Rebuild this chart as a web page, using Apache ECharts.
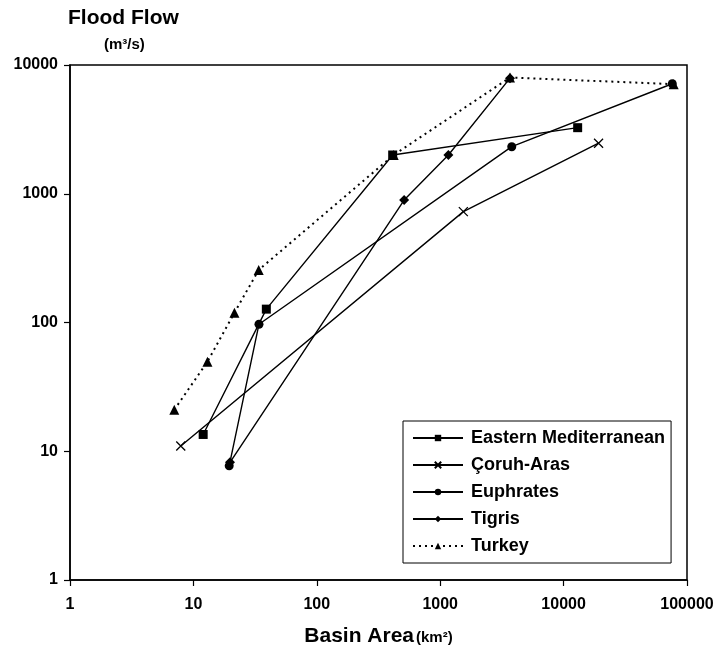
<!DOCTYPE html>
<html>
<head>
    <meta charset="utf-8" />
    <title>Flood Flow vs Basin Area</title>
    <style>
        html, body { margin: 0; padding: 0; background: #fff; }
        #chart { width: 715px; height: 647px; }
    </style>
</head>
<body>
    <div id="chart"></div>
    <script src="https://cdn.jsdelivr.net/npm/echarts@6/dist/echarts.min.js"></script>
    <script>
        // [basin area km2, flood flow m3/s]
        var easternMed = [[12, 13.5], [39, 127], [412, 2000], [13000, 3260]];
        var coruhAras = [[7.9, 11], [1540, 726], [19200, 2470]];
        var euphrates = [[19.5, 7.7], [34, 97], [3800, 2320], [76000, 7150]];
        var tigris = [[19.8, 8.2], [510, 894], [1165, 2000], [3680, 7900]];
        var turkey = [[7, 21], [13, 49.6], [21.5, 119], [33.8, 256], [420, 2000], [3680, 8000], [78000, 7100]];

        var xTicks = [1, 10, 100, 1000, 10000, 100000];
        var yTicks = [1, 10, 100, 1000, 10000];

        var font = 'Liberation Sans, Arial, sans-serif';
        var crossPath = 'path://M0,0L10,10M10,0L0,10';

        function line(name, data, symbol, size, dashed) {
            return {
                name: name,
                type: 'line',
                data: data,
                symbol: symbol,
                symbolSize: size,
                lineStyle: dashed
                    ? { color: '#000', width: 2, type: [2, 4] }
                    : { color: '#000', width: 1.4, type: 'solid' },
                itemStyle: {
                    color: symbol === crossPath ? 'none' : '#000',
                    borderColor: '#000',
                    borderWidth: symbol === crossPath ? 1.3 : 0
                },
                emphasis: { disabled: true },
                animation: false
            };
        }

        var chart = echarts.init(document.getElementById('chart'));
        chart.setOption({
            backgroundColor: '#fff',
            animation: false,
            grid: {
                left: 70, right: 28, top: 65, bottom: 67,
                containLabel: false,
                outerBoundsMode: 'none',
                show: true, borderColor: '#000', borderWidth: 1.5
            },
            xAxis: {
                type: 'log',
                logBase: 10,
                min: xTicks[0],
                max: xTicks[xTicks.length - 1],
                name: '{a|Basin Area}{b|(km²)}',
                nameLocation: 'middle',
                nameGap: 46,
                nameTextStyle: {
                    rich: {
                        a: { fontFamily: font, fontWeight: 'bold', fontSize: 21, color: '#000' },
                        b: { fontFamily: font, fontWeight: 'bold', fontSize: 15, color: '#000', padding: [3, 0, 0, 2] }
                    }
                },
                axisLine: { lineStyle: { color: '#000', width: 1.5 } },
                axisTick: { inside: false, length: 6, lineStyle: { color: '#000', width: 1.2 } },
                axisLabel: {
                    margin: 17,
                    fontFamily: font, fontWeight: 'bold', fontSize: 16, color: '#000',
                    formatter: function (v) { return String(Math.round(v)); }
                },
                splitLine: { show: false }
            },
            yAxis: {
                type: 'log',
                logBase: 10,
                min: yTicks[0],
                max: yTicks[yTicks.length - 1],
                axisLine: { lineStyle: { color: '#000', width: 1.5 } },
                axisTick: { inside: false, length: 6, lineStyle: { color: '#000', width: 1.2 } },
                axisLabel: {
                    margin: 12,
                    fontFamily: font, fontWeight: 'bold', fontSize: 16, color: '#000',
                    formatter: function (v) { return String(Math.round(v)); }
                },
                splitLine: { show: false }
            },
            legend: {
                orient: 'vertical',
                left: 403,
                top: 421,
                backgroundColor: '#fff',
                borderColor: '#000',
                borderWidth: 1,
                borderRadius: 0,
                padding: [8, 6, 8, 9],
                itemWidth: 50,
                itemHeight: 8,
                itemGap: 9,
                textStyle: { fontFamily: font, fontWeight: 'bold', fontSize: 18, color: '#000', padding: [0, 0, 0, 3] },
                data: ['Eastern Mediterranean', 'Çoruh-Aras', 'Euphrates', 'Tigris', 'Turkey']
            },
            graphic: [
                {
                    type: 'text', left: 68, top: 8,
                    style: { text: 'Flood Flow', fontFamily: font, fontWeight: 'bold', fontSize: 21, fill: '#000' }
                },
                {
                    type: 'text', left: 104, top: 37,
                    style: { text: '(m³/s)', fontFamily: font, fontWeight: 'bold', fontSize: 15, fill: '#000' }
                }
            ],
            series: [
                line('Eastern Mediterranean', easternMed, 'rect', 9),
                line('Çoruh-Aras', coruhAras, crossPath, 9),
                line('Euphrates', euphrates, 'circle', 9),
                line('Tigris', tigris, 'diamond', 10),
                line('Turkey', turkey, 'triangle', 10, true)
            ]
        });
    </script>
</body>
</html>
